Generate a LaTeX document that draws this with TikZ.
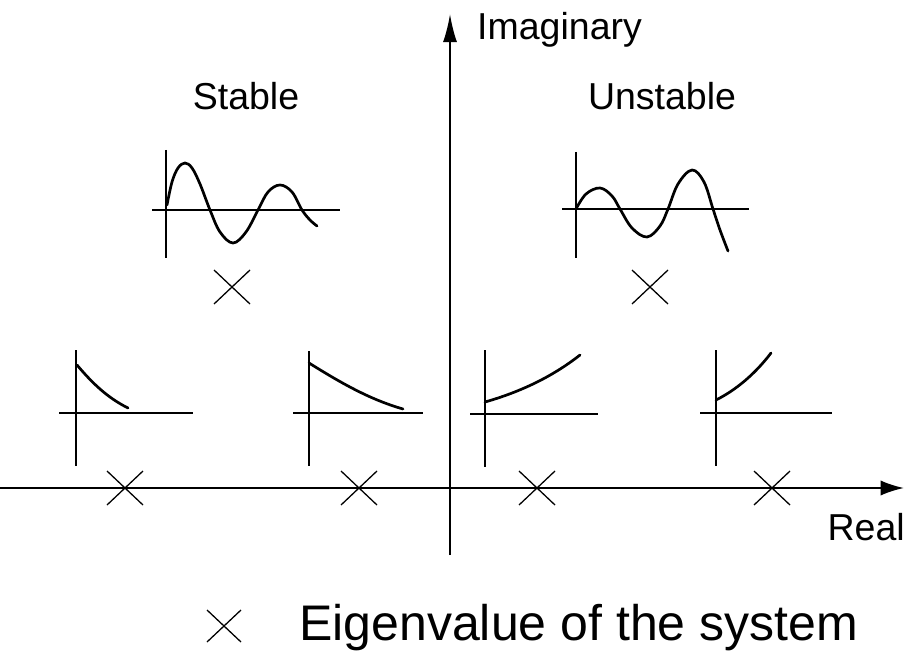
\documentclass[tikz,border=0pt]{standalone}
\usepackage{fontspec}
\setmainfont{Liberation Sans}
\usetikzlibrary{arrows.meta}
\begin{document}
\begin{tikzpicture}[x=0.03cm,y=-0.03cm,
  axisline/.style={line width=1.7pt},
  plotaxis/.style={line width=2.1pt},
  curve/.style={line width=2.3pt,line cap=round},
  eig/.style={line width=1.1pt},
  lbl/.style={inner sep=0pt,font=\fontsize{32}{38}\selectfont},
  legend/.style={inner sep=0pt,font=\fontsize{42.7}{48}\selectfont}]
\useasboundingbox (0,0) rectangle (904,651);
% main axes
\coordinate (reS) at (0,488);
\coordinate (reE) at (904,488);
\coordinate (imS) at (450,555);
\coordinate (imE) at (450,14);
\draw[axisline,-{Latex[length=20pt,width=13pt]}] (reS) -- (reE);
\draw[axisline,-{Latex[length=24pt,width=12pt]}] (imS) -- (imE);
% labels
\node[lbl,anchor=base west] (imag) at (477,40) {Imaginary};
\node[lbl,anchor=base] (stable) at (246,110) {Stable};
\node[lbl,anchor=base] (unstable) at (662,110) {Unstable};
\node[lbl,anchor=base east] (real) at (905,540) {Real};
% eigenvalue crosses
\foreach \n/\cx/\cy in {e1/232/287, e2/650/287, e3/125/488, e4/359/488, e5/537/488, e6/772/488}{
  \coordinate (\n) at (\cx,\cy);
  \draw[eig] ([shift={(-18,-17)}]\n) -- ([shift={(18,17)}]\n);
  \draw[eig] ([shift={(-18,17)}]\n) -- ([shift={(18,-17)}]\n);
}
% top-left: damped oscillation
\draw[plotaxis] (166,150) -- (166,258);
\draw[plotaxis] (152,210) -- (340,210);
\draw[curve] plot[smooth,tension=0.6] coordinates {(167,205) (172,182) (178,168) (185,163) (192,168) (200,184) (210,210) (220,232) (233,243) (246,232) (258,210) (268,192) (280,185) (292,192) (302,210) (310,220) (317,226)};
% top-right: growing oscillation
\draw[plotaxis] (576,152) -- (576,258);
\draw[plotaxis] (562,209) -- (749,209);
\draw[curve] plot[smooth,tension=0.6] coordinates {(576,209) (586,194) (600,188) (612,196) (620,209) (632,228) (647,237) (660,226) (668,209) (678,184) (692,170) (704,182) (713,209) (720,230) (728,251)};
% bottom plots
\draw[plotaxis] (76,350) -- (76,466);
\draw[plotaxis] (59,413) -- (193,413);
\draw[curve] (77,365) .. controls (93,384) and (108,398) .. (128,408);
\draw[plotaxis] (309,351) -- (309,466);
\draw[plotaxis] (293,413) -- (423,413);
\draw[curve] (309,363) .. controls (338,381) and (368,399) .. (403,409);
\draw[plotaxis] (485,350) -- (485,467);
\draw[plotaxis] (470,414) -- (598,414);
\draw[curve] (485,402) .. controls (520,392) and (552,377) .. (580,355);
\draw[plotaxis] (716,350) -- (716,466);
\draw[plotaxis] (700,413) -- (832,413);
\draw[curve] (716,400) .. controls (736,390) and (755,374) .. (771,353);
% legend
\coordinate (lx) at (224,626);
\draw[eig] ([shift={(-17,-16)}]lx) -- ([shift={(17,16)}]lx);
\draw[eig] ([shift={(-17,16)}]lx) -- ([shift={(17,-16)}]lx);
\node[legend,anchor=base west] (leg) at (299,640) {Eigenvalue of the system};
\end{tikzpicture}
\end{document}
